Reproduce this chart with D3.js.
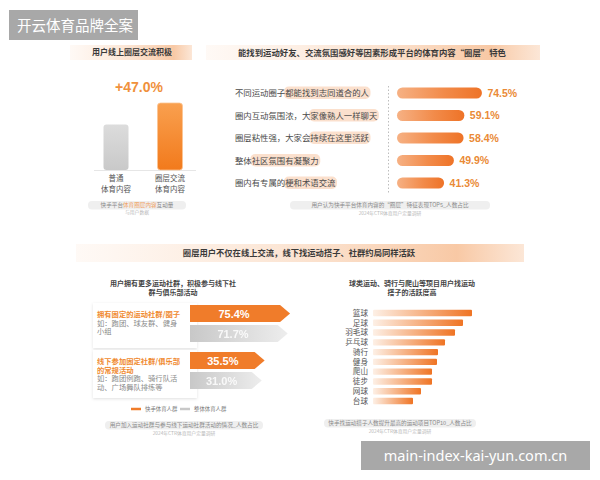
<!DOCTYPE html>
<html><head><meta charset="utf-8">
<script src="https://cdn.jsdelivr.net/npm/d3@7"></script>
<style>body{margin:0;background:#fff}svg{display:block}</style>
</head><body>
<script>
// ---------- data ----------
const headerText = "开云体育品牌全案";
const watermarkText = "main-index-kai-yun.com.cn";

const p1Title = "用户线上圈层交流积极";
const p1Categories = ["普通体育内容", "圈层交流体育内容"];
const p1Labels = [["普通", "体育内容"], ["圈层交流", "体育内容"]];
const p1Values = [100, 147];

const p2Title = "能找到运动好友、交流氛围感好等因素形成平台的体育内容“圈层”特色";
const p2Labels = ["不同运动圈子都能找到志同道合的人", "圈内互动氛围浓，大家像熟人一样聊天", "圈层粘性强，大家会持续在这里活跃", "整体社区氛围有凝聚力", "圈内有专属的梗和术语交流"];
const p2Highlight = [6, 9, 9, 2, 6];
const p2Values = [74.5, 59.1, 58.4, 49.9, 41.3];

const p3Title = "圈层用户不仅在线上交流，线下找运动搭子、社群约局同样活跃";
const p3aTitle = ["用户拥有更多运动社群，积极参与线下社", "群与俱乐部活动"];
const p3aGroups = ["拥有固定的运动社群/圈子", "线下参加固定社群/俱乐部的常规活动"];
const p3aSeries = ["快手体育人群", "整体体育人群"];
const p3aKuaishou = [75.4, 35.5];
const p3aOverall = [71.7, 31.0];
const p3aGroupText = [
  {head: ["拥有固定的运动社群/圈子"], body: ["如：跑团、球友群、健身", "小组"]},
  {head: ["线下参加固定社群/俱乐部", "的常规活动"], body: ["如：跑团例跑、骑行队活", "动、广场舞队排练等"]}
];

const p3bTitle = ["球类运动、骑行与爬山等项目用户找运动", "搭子的活跃度高"];
const p3bCategories = ["篮球", "足球", "羽毛球", "乒乓球", "骑行", "健身", "爬山", "徒步", "网球", "台球"];
const p3bValues = [99, 90, 82, 72, 65, 64, 59, 59, 48, 40];

const notes = {
  p1: ["快手平台", "体育圈层内容", "互动量", "与用户数据"],
  p2: ["用户认为快手平台体育内容的“圈层”特征表现TOP5_人数占比", "2024年CTR体育用户定量调研"],
  p3a: ["用户加入运动社群与参与线下运动社群活动的情况_人数占比", "2024年CTR体育用户定量调研"],
  p3b: ["快手找运动搭子人数提升最高的运动项目TOP10_人数占比", "2024年CTR体育用户定量调研"]
};

// ---------- setup ----------
const W = 600, H = 480;
const CJK = "'Noto Sans CJK SC','Noto Sans',sans-serif";
const NUM = "'Liberation Sans',Arial,sans-serif";
const ORANGE = "#f07c2a", AMBER = "#ea8a36";
const svg = d3.select("body").append("svg").attr("width", W).attr("height", H);
svg.append("rect").attr("width", W).attr("height", H).attr("fill", "#fff");
const defs = svg.append("defs");

function lin(id, stops, x2 = "100%", y2 = "0%") {
  const g = defs.append("linearGradient").attr("id", id).attr("x1", "0%").attr("y1", "0%").attr("x2", x2).attr("y2", y2);
  stops.forEach(s => g.append("stop").attr("offset", s[0]).attr("stop-color", s[1]).attr("stop-opacity", s[2] ?? 1));
}
lin("banner", [["0%", "#fbd9c0", 0.15], ["45%", "#f9d2b4", 0.55], ["85%", "#f7bf95", 0.85], ["100%", "#f7c29a", 0.4]]);
lin("p1gray", [["0%", "#dcdcdc"], ["100%", "#c9c9c9"]], "0%", "100%");
lin("p1orange", [["0%", "#f9a04f"], ["100%", "#f27a1c"]], "0%", "100%");
lin("p2bar", [["0%", "#f6b184"], ["55%", "#f28b4a"], ["100%", "#ee7327"]]);
lin("p3gray", [["0%", "#c8c8c8"], ["100%", "#ededed"]]);
lin("p3bbar", [["0%", "#fdf0e6"], ["100%", "#ef7424"]]);
const sh = defs.append("filter").attr("id", "shadow").attr("x", "-20%").attr("y", "-20%").attr("width", "140%").attr("height", "150%");
sh.append("feDropShadow").attr("dx", 0).attr("dy", 1).attr("stdDeviation", 1.6).attr("flood-color", "#000").attr("flood-opacity", 0.12);

function banner(x, y, w, h, text, cx, size) {
  svg.append("rect").attr("x", x).attr("y", y).attr("width", w).attr("height", h).attr("fill", "url(#banner)");
  svg.append("text").attr("x", cx).attr("y", y + h / 2 + size * 0.36).attr("text-anchor", "middle")
    .attr("font-family", CJK).attr("font-size", size).attr("font-weight", 700).attr("fill", "#3a3a3a").text(text);
}
function note(cx, y, w, lines) {
  svg.append("rect").attr("x", cx - w / 2).attr("y", y - 6).attr("width", w).attr("height", 8.5).attr("rx", 4).attr("fill", "#efefef");
  svg.append("text").attr("x", cx).attr("y", y).attr("text-anchor", "middle").attr("font-family", CJK).attr("font-size", 5.6).attr("fill", "#8a8a8a").text(lines[0]);
  svg.append("text").attr("x", cx).attr("y", y + 7.5).attr("text-anchor", "middle").attr("font-family", CJK).attr("font-size", 4.8).attr("fill", "#b8b8b8").text(lines[1]);
}

// ---------- header & watermark ----------
svg.append("rect").attr("x", 9).attr("y", 10).attr("width", 129).attr("height", 30).attr("fill", "#a8a8a8");
svg.append("text").attr("x", 17).attr("y", 31).attr("font-family", CJK).attr("font-size", 14.5).attr("fill", "#fff").text(headerText);
svg.append("rect").attr("x", 361).attr("y", 441).attr("width", 229).attr("height", 29).attr("fill", "#a8a8a8");
svg.append("text").attr("x", 475.5).attr("y", 461).attr("text-anchor", "middle").attr("font-family", "'Noto Sans',sans-serif").attr("font-size", 14.5).attr("fill", "#fff").text(watermarkText);

// ---------- panel 1 ----------
banner(70, 45, 122, 15, p1Title, 132, 8);
const p1x = d3.scalePoint().domain(p1Categories).range([116, 170]);
const p1y = d3.scaleLinear().domain([0, 147]).range([170, 103]);
const bw = 25;
svg.append("line").attr("x1", 94).attr("x2", 196).attr("y1", 170.5).attr("y2", 170.5).attr("stroke", "#e6e6e6");
svg.selectAll(".p1bar").data(p1Categories).join("rect")
  .attr("x", d => p1x(d) - bw / 2).attr("width", bw)
  .attr("y", (d, i) => p1y(p1Values[i])).attr("height", (d, i) => p1y(0) - p1y(p1Values[i]))
  .attr("rx", 3).attr("fill", (d, i) => i === 0 ? "url(#p1gray)" : "url(#p1orange)")
  .attr("stroke", (d, i) => i === 0 ? "none" : "#fbc493").attr("stroke-width", 0.8);
svg.append("text").attr("x", 139).attr("y", 92).attr("text-anchor", "middle").attr("font-family", NUM)
  .attr("font-size", 14).attr("font-weight", 700).attr("fill", "#f0913c")
  .text("+" + ((p1Values[1] / p1Values[0] - 1) * 100).toFixed(1) + "%");
p1Categories.forEach((c, i) => {
  p1Labels[i].forEach((t, j) => svg.append("text").attr("x", p1x(c)).attr("y", 181 + j * 10.5).attr("text-anchor", "middle")
    .attr("font-family", CJK).attr("font-size", 7.5).attr("fill", "#555").text(t));
});
svg.append("rect").attr("x", 88).attr("y", 201).attr("width", 98).attr("height", 8.5).attr("rx", 4).attr("fill", "#efefef");
const n1 = svg.append("text").attr("x", 137).attr("y", 207).attr("text-anchor", "middle").attr("font-family", CJK).attr("font-size", 5.6);
n1.append("tspan").attr("fill", "#8a8a8a").text(notes.p1[0]);
n1.append("tspan").attr("fill", "#f0a060").text(notes.p1[1]);
n1.append("tspan").attr("fill", "#8a8a8a").text(notes.p1[2]);
svg.append("text").attr("x", 137).attr("y", 214).attr("text-anchor", "middle").attr("font-family", CJK).attr("font-size", 4.8).attr("fill", "#b8b8b8").text(notes.p1[3]);

// ---------- panel 2 ----------
banner(206, 45, 334, 15, p2Title, 372, 8.4);
const p2y = d3.scalePoint().domain(p2Labels).range([93, 183]);
const p2x = d3.scaleLinear().domain([0, 100]).range([397, 511]);
svg.append("line").attr("x1", 388.5).attr("x2", 388.5).attr("y1", 86).attr("y2", 193).attr("stroke", "#bdbdbd").attr("stroke-dasharray", "1.5,2");
p2Labels.forEach((lab, i) => {
  const y = p2y(lab);
  const t = svg.append("text").attr("x", 235).attr("y", y + 3).attr("font-family", CJK).attr("font-size", 8.4).attr("fill", "#4a4a4a").text(lab);
  const node = t.node();
  const x0 = node.getSubStringLength(0, p2Highlight[i]);
  const full = node.getComputedTextLength();
  svg.insert("rect", () => node).attr("x", 235 + x0 - 1.5).attr("y", y - 6.5).attr("width", full - x0 + 3).attr("height", 12.5)
    .attr("rx", 5).attr("fill", "#f9d6bc").attr("opacity", 0.75);
  svg.append("rect").attr("x", p2x(0)).attr("y", y - 5.5).attr("width", p2x(p2Values[i]) - p2x(0)).attr("height", 11)
    .attr("rx", 5.5).attr("fill", "url(#p2bar)");
  svg.append("text").attr("x", p2x(p2Values[i]) + 5.5).attr("y", y + 3.8).attr("font-family", NUM).attr("font-size", 10.5)
    .attr("font-weight", 700).attr("fill", AMBER).text(p2Values[i].toFixed(1) + "%");
});
note(390, 207, 200, notes.p2);

// ---------- section 3 ----------
banner(76, 244, 448, 18, p3Title, 299, 8.3);

// 3a
p3aTitle.forEach((t, j) => svg.append("text").attr("x", 173).attr("y", 286 + j * 8.5).attr("text-anchor", "middle")
  .attr("font-family", CJK).attr("font-size", 7).attr("font-weight", 700).attr("fill", "#444").text(t));
const gy = d3.scalePoint().domain(p3aGroups).range([305, 352]);
const sy = d3.scalePoint().domain(p3aSeries).range([0, 20]);
const p3x = d3.scaleLinear().domain([0, 80]).range([242, 293]);
const cardH = [45, 48];
p3aGroups.forEach((g, i) => {
  svg.append("rect").attr("x", 93).attr("y", gy(g) - 2).attr("width", 104).attr("height", cardH[i]).attr("fill", "#fff").attr("filter", "url(#shadow)");
});
function arrow(x0, x1, y, h) {
  const tip = 10;
  return `M${x0},${y}L${x1 - tip},${y}L${x1},${y + h / 2}L${x1 - tip},${y + h}L${x0},${y + h}Z`;
}
p3aGroups.forEach((g, i) => {
  const vals = [p3aKuaishou[i], p3aOverall[i]];
  p3aSeries.forEach((s, k) => {
    const y = gy(g) + sy(s), h = 17, x1 = p3x(vals[k]);
    svg.append("path").attr("d", arrow(190, x1, y, h)).attr("fill", k === 0 ? ORANGE : "url(#p3gray)");
    svg.append("text").attr("x", 190 + (x1 - 190) * 0.44).attr("y", y + h / 2 + 4).attr("text-anchor", "middle")
      .attr("font-family", NUM).attr("font-size", 11).attr("font-weight", 700).attr("fill", "#fff")
      .attr("opacity", k === 0 ? 1 : 0.85).text(vals[k].toFixed(1) + "%");
  });
  const gt = p3aGroupText[i];
  let ty = gy(g) + 12;
  gt.head.forEach(t => { svg.append("text").attr("x", 97).attr("y", ty).attr("font-family", CJK).attr("font-size", 7.3).attr("font-weight", 700).attr("fill", "#f08a30").text(t); ty += 8.5; });
  gt.body.forEach(t => { svg.append("text").attr("x", 97).attr("y", ty).attr("font-family", CJK).attr("font-size", 7.3).attr("fill", "#8a8a8a").text(t); ty += 8.5; });
});
// legend
const lg = d3.scalePoint().domain(p3aSeries).range([131, 180]);
p3aSeries.forEach((s, k) => {
  svg.append("line").attr("x1", lg(s)).attr("x2", lg(s) + 10).attr("y1", 409).attr("y2", 409)
    .attr("stroke", k === 0 ? ORANGE : "#c8c8c8").attr("stroke-width", 2.5);
  svg.append("text").attr("x", lg(s) + 14).attr("y", 411).attr("font-family", CJK).attr("font-size", 5.4).attr("fill", "#777").text(s);
});
note(184, 427, 158, notes.p3a);

// 3b
p3bTitle.forEach((t, j) => svg.append("text").attr("x", 412).attr("y", 286 + j * 8.5).attr("text-anchor", "middle")
  .attr("font-family", CJK).attr("font-size", 7).attr("font-weight", 700).attr("fill", "#444").text(t));
const by = d3.scalePoint().domain(p3bCategories).range([313, 401]);
const bx = d3.scaleLinear().domain([0, 100]).range([373, 473]);
svg.selectAll(".p3b").data(p3bCategories).join("rect")
  .attr("x", bx(0)).attr("y", d => by(d) - 3.2).attr("height", 6.4)
  .attr("width", (d, i) => bx(p3bValues[i]) - bx(0)).attr("rx", 1).attr("fill", "url(#p3bbar)");
svg.selectAll(".p3bl").data(p3bCategories).join("text")
  .attr("x", 368).attr("y", d => by(d) + 2.8).attr("text-anchor", "end")
  .attr("font-family", CJK).attr("font-size", 7.6).attr("fill", "#555").text(d => d);
note(400, 425, 152, notes.p3b);
</script>
</body></html>
